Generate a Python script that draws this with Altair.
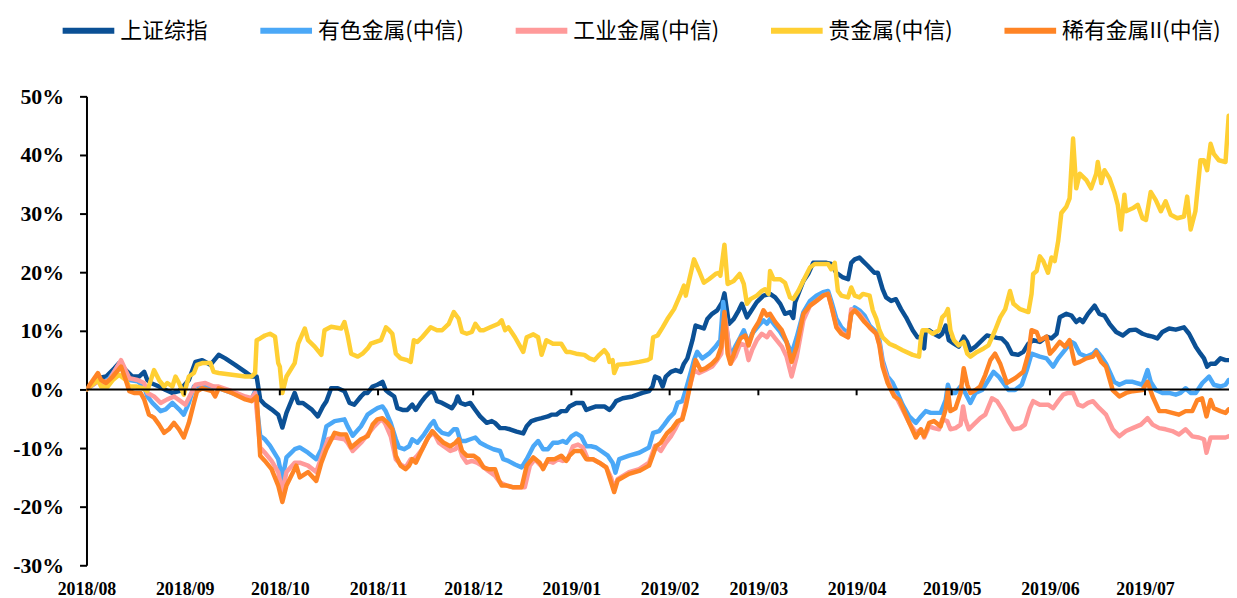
import altair as alt
import pandas as pd

# ---------------- data (day = calendar days since 2018-08-01, value in %) ----------------
SERIES = ["上证综指", "有色金属(中信)", "工业金属(中信)", "贵金属(中信)", "稀有金属II(中信)"]
COLORS = ["#0b5095", "#4ba8f7", "#ff9a9a", "#ffcf33", "#ff8425"]

sz_day = [0, 3.6, 6.2, 8.8, 10.3, 12.4, 14.5, 16.6, 18.2, 19.2, 20.3, 22.9, 25.0, 27.1, 29.2, 32.3, 34.4, 36.5, 39.1, 41.7,
          43.8, 46.9, 50.1, 52.1, 53.7, 54.8, 56.3, 58.4, 60.5, 61.8, 63.1, 65.7, 66.8, 68.3, 71.0, 73.0, 74.6, 75.7, 77.2, 79.3,
          81.4, 83.0, 84.5, 86.6, 87.7, 88.7, 90.3, 91.8, 93.4, 94.4, 95.5, 97.1, 98.1, 99.7, 101.2, 102.8, 103.9, 105.4, 107.0, 108.6,
          109.6, 110.6, 112.2, 114.3, 115.3, 116.4, 117.1, 118.0, 119.5, 121.1, 122.7, 124.2, 126.3, 127.9, 128.9, 130.5, 132.1, 133.6, 135.7, 137.8,
          138.9, 140.4, 142.0, 143.6, 145.6, 146.7, 148.3, 149.8, 151.4, 152.4, 154.5, 156.6, 157.7, 159.2, 160.8, 163.4, 165.0, 166.0, 167.1, 169.2,
          172.3, 175.4, 177.5, 178.6, 179.4, 180.7, 181.8, 182.8, 184.4, 185.9, 187.5, 188.5, 189.6, 191.2, 192.2, 193.8, 194.8, 195.9, 197.4, 199.0,
          200.6, 201.3, 202.7, 204.2, 205.8, 206.8, 208.4, 209.5, 211.5, 213.6, 215.7, 217.3, 218.9, 220.4, 222.0, 223.0, 223.6, 226.2, 227.7, 229.3,
          231.4, 233.5, 235.0, 236.6, 238.7, 240.3, 241.3, 242.4, 243.9, 245.0, 246.5, 248.6, 249.7, 251.2, 252.3, 253.9, 255.4, 257.0, 258.6, 260.7,
          262.2, 263.3, 264.3, 264.8, 265.9, 267.4, 269.0, 270.0, 271.1, 272.1, 273.7, 275.2, 276.8, 277.9, 278.9, 280.5, 282.6, 284.1, 285.7, 287.3,
          288.8, 290.4, 292.0, 294.0, 295.6, 297.2, 298.7, 300.8, 302.9, 304.5, 306.1, 307.1, 309.2, 310.8, 312.3, 313.4, 314.4, 316.0, 318.1, 319.6,
          321.2, 322.8, 324.9, 327.0, 329.1, 331.1, 333.2, 334.8, 336.4, 337.9, 339.5, 341.6, 343.7, 346.3, 347.9, 350.0, 351.5, 352.6, 353.6, 354.7,
          356.2, 357.8, 359.4, 360.4]
sz_val = [0, 1.9, 2.2, 3.6, 4.5, 3.3, 2.2, 2.2, 3.0, 1.6, 1.1, 0.5, -0.1, -0.6, -0.3, 1.6, 4.7, 5.0, 4.2, 5.9,
          5.3, 4.2, 3.0, 2.2, 2.2, -1.7, -2.6, -3.4, -4.3, -6.5, -4.0, -0.6, -2.3, -2.3, -3.4, -4.6, -2.9, -2.0, 0.2, 0.2,
          -0.3, -2.3, -2.6, -1.2, -0.6, -0.6, 0.5, 0.8, 1.3, -0.1, -0.6, -1.2, -3.2, -3.5, -3.5, -2.6, -3.5, -2.3, -1.2, -0.3,
          -0.6, -2.0, -2.3, -2.9, -3.2, -2.3, -1.2, -2.3, -2.6, -2.3, -3.5, -4.6, -5.7, -5.4, -5.7, -6.6, -6.6, -6.8, -7.2, -7.5,
          -6.3, -5.4, -5.1, -4.9, -4.6, -4.3, -4.3, -3.7, -3.7, -2.9, -2.3, -2.3, -3.5, -3.2, -2.9, -2.9, -3.5, -2.9, -2.0, -1.5,
          -1.2, -0.6, -0.3, 0.5, 2.2, 1.9, 0.5, 2.2, 3.0, 3.3, 3.0, 4.4, 5.3, 8.4, 10.9, 10.6, 10.4, 12.0, 12.9, 13.5,
          14.9, 16.4, 11.2, 12.0, 13.5, 14.6, 12.3, 13.2, 14.9, 16.0, 16.3, 15.7, 14.6, 12.9, 13.2, 12.2, 14.9, 18.5, 19.7, 21.6,
          21.6, 21.6, 21.4, 19.9, 19.1, 18.8, 21.6, 22.2, 22.5, 21.9, 21.1, 19.9, 19.9, 17.1, 15.7, 15.1, 15.4, 13.7, 12.3, 10.1,
          8.9, 8.9, 7.0, 10.1, 10.1, 9.5, 9.0, 9.5, 10.9, 8.4, 7.8, 7.3, 9.0, 8.1, 6.7, 7.3, 8.4, 9.2, 9.0, 8.8,
          8.7, 7.8, 6.1, 5.9, 6.4, 7.8, 8.4, 8.1, 9.0, 8.7, 9.5, 12.3, 12.9, 12.6, 11.5, 12.0, 11.5, 12.9, 14.3, 12.9,
          12.6, 11.2, 9.8, 9.2, 10.1, 10.2, 9.5, 9.2, 9.0, 8.7, 9.8, 10.4, 10.2, 10.6, 9.5, 7.3, 6.1, 5.3, 3.9, 4.4,
          4.4, 5.3, 5.0, 5.0]

ys_day = [0, 3.6, 5.1, 7.2, 10.9, 13.5, 16.1, 18.2, 19.2, 20.8, 23.4, 25.0, 27.1, 29.2, 30.7, 32.3, 33.9, 36.5, 39.6, 41.7,
          45.9, 50.1, 52.1, 53.2, 54.8, 56.3, 57.9, 60.5, 61.8, 63.1, 65.7, 67.3, 69.9, 72.5, 74.1, 75.7, 78.3, 81.4, 82.4, 84.0,
          86.6, 88.7, 90.3, 91.8, 93.4, 94.4, 96.0, 97.6, 98.6, 100.2, 101.8, 102.8, 104.4, 106.5, 108.6, 109.6, 110.6, 112.2, 114.3, 115.9,
          116.9, 118.0, 119.5, 121.1, 122.7, 124.2, 126.3, 128.4, 130.5, 131.5, 133.1, 135.2, 137.3, 138.9, 141.0, 142.5, 144.1, 145.6, 147.2, 148.8,
          150.3, 151.4, 153.0, 154.5, 156.1, 157.7, 159.2, 160.8, 162.4, 164.5, 166.0, 166.9, 168.1, 171.2, 174.4, 177.5, 178.8, 180.7, 182.3, 183.8,
          185.4, 186.5, 188.0, 189.1, 190.6, 191.7, 192.7, 194.3, 196.4, 198.5, 200.0, 200.9, 201.9, 203.2, 204.7, 206.3, 207.4, 208.9, 210.0, 212.1,
          213.6, 214.7, 215.7, 217.3, 218.9, 220.9, 222.5, 224.1, 226.2, 228.3, 230.3, 232.4, 234.0, 235.0, 236.6, 238.2, 240.3, 241.3, 242.4, 243.9,
          245.5, 247.1, 249.2, 250.2, 251.2, 252.8, 254.4, 255.9, 257.5, 259.6, 261.7, 263.3, 264.8, 266.4, 267.4, 269.5, 271.1, 271.8, 272.6, 274.2,
          275.8, 277.3, 278.9, 280.5, 282.6, 284.6, 286.2, 287.8, 289.3, 290.9, 293.0, 295.1, 296.7, 298.2, 300.8, 302.9, 305.0, 306.6, 308.7, 310.8,
          311.8, 313.4, 315.5, 317.6, 318.6, 320.2, 321.7, 324.3, 325.9, 328.0, 330.1, 333.2, 334.8, 335.8, 337.4, 339.5, 341.6, 343.7, 345.2, 346.8,
          348.4, 350.0, 352.1, 354.2, 355.7, 357.8, 359.4, 360.4]
ys_val = [0, 1.4, 1.1, 1.9, 4.7, 1.6, 1.4, 0.5, -1.2, -2.3, -3.7, -3.4, -2.3, -3.4, -4.3, -2.3, 0.5, 0.8, 0.5, 0.2,
          -0.6, -1.5, -1.6, -0.3, -7.9, -8.5, -9.6, -11.9, -15.3, -11.6, -10.2, -9.9, -10.8, -11.9, -10.2, -6.3, -5.4, -5.1, -6.3, -7.9,
          -6.3, -4.3, -3.7, -3.2, -2.9, -3.7, -5.7, -8.5, -9.9, -10.2, -9.7, -8.5, -9.1, -7.7, -6.0, -5.4, -6.6, -7.4, -7.7, -6.8,
          -6.8, -8.8, -8.8, -8.5, -8.2, -9.1, -9.7, -10.2, -10.5, -11.9, -12.2, -12.8, -13.3, -11.9, -9.7, -8.8, -10.2, -10.2, -9.1, -9.1,
          -8.8, -9.1, -8.0, -7.5, -8.0, -9.7, -9.7, -9.9, -10.5, -11.3, -12.5, -14.2, -11.9, -11.3, -10.8, -9.9, -7.4, -7.1, -6.0, -4.9,
          -4.0, -2.3, -2.0, -0.1, 2.8, 5.0, 6.4, 5.3, 6.1, 7.3, 8.4, 14.9, 10.6, 5.6, 7.3, 8.9, 10.1, 7.8, 9.5, 10.9,
          11.8, 11.2, 12.0, 10.9, 9.8, 8.1, 6.1, 8.9, 13.2, 15.1, 16.0, 16.6, 16.8, 15.1, 12.1, 10.6, 9.5, 12.9, 14.0, 13.5,
          12.6, 10.9, 9.8, 8.4, 5.0, 2.2, 1.1, -0.6, -2.6, -4.6, -5.7, -4.6, -3.7, -4.0, -4.0, -4.0, -1.8, 0.8, -0.6, -0.6,
          0.5, -0.6, -2.3, -0.6, -0.1, 1.6, 3.0, 2.2, 1.1, -0.1, -0.1, 0.8, 3.3, 6.1, 5.6, 5.3, 3.9, 5.3, 6.7, 8.1,
          7.8, 6.1, 5.6, 6.1, 6.7, 5.6, 4.4, 1.3, 0.8, 1.3, 1.3, 0.8, 3.3, 1.3, -0.1, -0.6, -0.6, -0.9, -0.6, 0.2,
          -0.6, -0.6, 1.1, 2.2, 0.8, 0.5, 0.8, 1.6]

gy_day = [0, 3.6, 5.1, 7.2, 10.9, 13.5, 16.1, 18.2, 19.2, 21.3, 23.4, 25.5, 27.6, 29.7, 31.2, 32.8, 34.4, 37.5, 40.1, 41.7,
          45.9, 50.1, 52.1, 53.2, 54.8, 56.3, 58.4, 60.5, 61.8, 63.1, 65.7, 67.3, 69.9, 72.5, 74.6, 76.2, 78.3, 81.4, 82.4, 84.0,
          86.6, 88.7, 90.8, 92.4, 93.4, 94.4, 96.0, 97.6, 99.1, 100.7, 102.3, 103.3, 104.4, 105.9, 108.0, 109.6, 111.2, 112.7, 114.8, 116.4,
          117.4, 118.5, 120.0, 121.6, 123.2, 124.7, 126.8, 128.9, 130.5, 132.6, 134.7, 136.8, 138.3, 139.9, 141.5, 143.0, 144.1, 145.6, 147.2, 148.8,
          150.3, 151.9, 153.5, 155.1, 156.6, 158.2, 159.8, 161.8, 164.0, 165.5, 166.5, 167.6, 171.2, 174.4, 177.5, 179.4, 181.2, 182.8, 184.4, 185.9,
          187.0, 188.0, 189.1, 190.1, 191.7, 193.3, 195.3, 197.4, 199.0, 200.3, 201.3, 202.1, 203.2, 204.7, 206.3, 207.9, 208.9, 210.0, 211.5, 213.1,
          214.7, 215.7, 217.3, 219.4, 220.9, 222.5, 224.1, 226.2, 228.3, 230.3, 232.4, 234.0, 235.0, 236.6, 238.2, 240.3, 241.3, 242.4, 243.9, 245.5,
          247.1, 249.2, 250.2, 251.2, 252.8, 254.4, 255.9, 257.5, 259.6, 261.7, 263.3, 264.3, 265.9, 267.4, 269.0, 270.0, 271.6, 272.6, 274.2, 275.8,
          276.6, 277.3, 278.4, 279.9, 282.0, 283.6, 285.7, 287.3, 289.3, 290.9, 292.5, 294.6, 296.1, 297.7, 298.7, 300.8, 303.4, 305.0, 306.6, 308.2,
          309.7, 311.3, 312.9, 314.4, 316.0, 317.6, 319.6, 321.7, 323.8, 325.9, 328.0, 330.1, 332.7, 334.8, 336.4, 338.5, 340.5, 342.6, 344.7, 346.8,
          348.9, 351.0, 352.6, 353.4, 354.7, 357.3, 359.4, 360.4]
gy_val = [0, 1.4, 1.1, 1.6, 5.0, 1.9, 1.6, 1.1, -0.6, -1.2, -2.3, -1.7, -1.2, -2.0, -2.6, -0.9, 0.8, 1.1, 0.5, 0.5,
          -0.3, -1.2, -1.5, -0.6, -9.9, -10.8, -12.2, -14.1, -17.5, -14.1, -12.5, -12.5, -13.0, -14.1, -10.8, -8.5, -8.2, -8.5, -9.1, -10.5,
          -9.1, -7.7, -6.3, -5.4, -5.1, -6.0, -8.0, -11.9, -12.8, -13.3, -11.9, -11.9, -11.3, -10.2, -8.0, -7.4, -9.1, -9.7, -10.5, -10.2,
          -9.4, -11.3, -12.5, -12.2, -12.5, -13.0, -13.9, -14.7, -15.9, -16.4, -16.7, -16.7, -16.7, -13.0, -11.9, -12.8, -13.3, -12.2, -12.5, -11.9,
          -12.2, -11.9, -9.7, -9.4, -9.9, -11.9, -11.9, -12.5, -13.3, -15.0, -17.0, -15.3, -14.1, -13.6, -12.5, -9.6, -10.5, -9.1, -8.0, -6.6,
          -5.4, -4.9, -2.3, -0.1, 3.3, 2.8, 3.3, 3.9, 5.0, 6.1, 12.6, 10.1, 4.4, 5.6, 7.8, 7.5, 5.0, 6.7, 8.4, 9.5,
          8.9, 9.8, 8.7, 7.3, 5.6, 2.2, 5.6, 11.8, 14.3, 15.1, 16.0, 16.3, 14.3, 10.9, 9.8, 8.9, 13.7, 13.5, 12.9, 11.8,
          10.6, 9.5, 7.8, 4.4, 1.6, -0.6, -1.7, -3.4, -5.7, -7.4, -6.8, -8.2, -6.3, -6.6, -6.8, -5.1, -5.4, -6.8, -6.6, -6.0,
          -2.9, -5.1, -6.8, -6.0, -4.9, -4.3, -1.5, -2.0, -3.7, -5.4, -6.8, -6.6, -6.0, -3.2, -2.0, -2.6, -2.6, -3.2, -2.0, -0.9,
          -0.6, -0.6, -2.6, -2.9, -2.3, -2.0, -3.2, -4.3, -6.8, -8.0, -7.1, -6.6, -6.0, -4.9, -6.0, -6.6, -6.8, -7.1, -7.7, -6.8,
          -8.0, -8.2, -8.5, -10.8, -8.2, -8.2, -8.2, -8.0]

gj_day = [0, 3.6, 4.6, 6.7, 8.3, 10.3, 12.4, 13.5, 15.6, 17.7, 19.2, 21.3, 22.9, 24.5, 25.5, 27.1, 28.1, 29.2, 30.7, 32.3,
          33.9, 34.9, 36.5, 39.1, 40.1, 41.7, 45.9, 50.1, 52.1, 53.2, 53.7, 54.8, 56.3, 57.9, 59.5, 60.5, 61.0, 61.8, 63.1, 65.7,
          66.8, 68.9, 69.9, 72.0, 74.1, 75.1, 77.2, 80.4, 81.4, 82.4, 83.5, 85.6, 87.1, 88.7, 89.7, 92.9, 94.5, 95.5, 96.5, 97.6,
          99.1, 101.2, 102.3, 103.3, 104.4, 105.9, 108.6, 110.6, 112.2, 114.3, 115.9, 117.4, 118.5, 120.0, 121.6, 122.7, 124.2, 125.3, 127.4, 130.0,
          131.0, 132.1, 133.1, 135.2, 137.8, 138.9, 141.0, 142.5, 143.6, 145.1, 147.2, 149.8, 151.4, 152.4, 154.5, 157.1, 158.7, 160.3, 161.8, 163.4,
          164.5, 165.0, 166.0, 166.5, 167.6, 171.2, 174.4, 177.0, 178.0, 178.8, 180.2, 181.8, 183.3, 185.4, 187.5, 188.5, 189.1, 190.1, 191.7, 193.3,
          194.8, 196.4, 198.5, 199.5, 200.0, 201.3, 202.3, 204.2, 206.1, 207.4, 208.4, 209.5, 211.5, 213.1, 214.1, 215.2, 215.7, 216.8, 218.9, 220.4,
          222.0, 223.0, 224.6, 226.7, 228.3, 229.8, 232.4, 234.0, 235.0, 236.1, 237.1, 238.2, 240.3, 241.3, 242.4, 243.9, 245.0, 247.1, 248.1, 249.2,
          250.2, 251.2, 253.3, 255.4, 257.5, 260.7, 262.7, 263.3, 263.8, 265.4, 267.0, 269.0, 270.0, 271.1, 271.8, 272.6, 273.7, 275.2, 276.8, 277.9,
          278.9, 281.0, 283.1, 284.6, 286.7, 288.3, 289.9, 291.4, 292.5, 294.6, 297.2, 298.2, 298.7, 299.8, 300.8, 301.9, 303.4, 304.5, 305.5, 306.6,
          307.6, 309.2, 310.2, 311.3, 312.3, 313.4, 315.5, 317.0, 318.6, 319.1, 320.2, 321.2, 322.8, 324.3, 325.4, 326.4, 327.5, 328.0, 330.1, 331.7,
          333.2, 334.3, 335.8, 337.4, 339.0, 340.5, 342.1, 344.2, 346.3, 347.3, 348.4, 349.9, 351.5, 352.6, 353.6, 354.7, 355.7, 357.3, 359.4, 360.4]
gj_val = [0, 1.6, 0.5, 0.5, 1.6, 2.5, 1.6, 0.5, 0.5, 0.2, -0.3, 3.3, 1.6, 0.5, 1.1, 0.5, 2.2, 1.1, -0.9, 2.2,
          2.8, 4.2, 4.5, 4.5, 3.0, 2.8, 2.5, 2.2, 2.2, 2.8, 8.4, 8.7, 9.2, 9.5, 9.0, 4.5, 3.9, -0.6, 2.2, 4.5,
          7.8, 10.4, 8.4, 7.3, 5.9, 10.1, 10.7, 10.4, 11.5, 9.2, 6.1, 5.6, 6.1, 7.0, 7.8, 8.4, 10.6, 10.1, 9.5, 6.1,
          5.3, 5.0, 4.7, 8.4, 8.1, 8.9, 10.6, 10.1, 10.1, 11.2, 13.2, 12.1, 9.8, 9.5, 9.8, 11.2, 10.1, 10.1, 10.6, 11.2,
          11.8, 10.1, 10.6, 8.9, 6.4, 8.9, 9.4, 8.9, 5.9, 8.4, 7.8, 7.8, 6.4, 6.4, 6.1, 5.9, 5.3, 5.0, 5.9, 6.7,
          5.9, 4.7, 5.0, 2.8, 4.2, 4.4, 4.7, 5.0, 5.3, 8.9, 9.2, 10.6, 12.0, 13.7, 16.3, 17.7, 16.0, 18.5, 22.2, 20.2,
          18.2, 18.8, 19.7, 19.9, 19.4, 24.7, 18.0, 18.5, 19.7, 18.0, 14.6, 15.4, 16.0, 16.8, 17.1, 16.3, 20.2, 18.8, 18.8, 18.2,
          15.7, 15.4, 16.8, 19.1, 20.8, 21.4, 21.4, 21.4, 20.5, 21.6, 16.8, 16.0, 15.7, 17.4, 16.0, 15.7, 16.3, 16.0, 13.5, 12.1,
          10.1, 8.9, 7.8, 7.3, 6.7, 5.9, 5.6, 8.9, 10.1, 10.1, 9.5, 10.1, 12.3, 12.9, 13.7, 10.1, 8.4, 7.5, 8.1, 6.1,
          5.6, 6.4, 7.0, 7.5, 10.1, 12.3, 13.7, 16.8, 14.6, 13.7, 13.2, 16.3, 19.7, 20.2, 22.7, 21.9, 19.9, 22.5, 21.9, 25.3,
          30.1, 31.2, 32.6, 42.8, 34.3, 36.8, 35.7, 34.3, 36.8, 38.8, 35.2, 37.4, 36.0, 33.7, 31.5, 27.3, 33.2, 30.4, 30.9, 31.5,
          29.2, 28.9, 33.7, 32.3, 30.4, 32.1, 29.8, 29.2, 29.5, 32.9, 27.3, 30.4, 39.1, 39.1, 37.4, 41.9, 40.2, 39.1, 38.8, 46.7]

xy_day = [0, 3.6, 4.6, 6.2, 8.3, 10.9, 12.4, 13.5, 15.0, 17.1, 18.2, 19.7, 21.3, 22.9, 24.5, 26.0, 27.6, 29.2, 30.7, 32.3,
          33.9, 34.9, 36.5, 39.6, 40.6, 41.7, 45.9, 50.1, 52.1, 53.7, 54.8, 56.3, 58.4, 60.5, 61.8, 63.1, 66.2, 67.3, 69.9, 72.5,
          74.1, 75.7, 78.3, 80.4, 81.9, 83.5, 86.6, 88.7, 90.3, 91.8, 93.4, 95.0, 96.5, 97.6, 99.1, 100.7, 101.8, 102.8, 103.9, 105.4,
          107.5, 109.1, 110.6, 112.7, 114.8, 116.4, 117.4, 118.5, 120.0, 122.1, 123.7, 125.3, 126.8, 128.9, 130.0, 131.0, 132.6, 134.7, 137.3, 138.9,
          141.0, 143.0, 144.1, 145.6, 147.7, 149.8, 151.4, 152.4, 154.0, 156.1, 157.7, 159.8, 161.8, 164.0, 165.5, 166.5, 167.6, 171.2, 174.4, 177.5,
          178.8, 179.7, 181.2, 183.3, 184.9, 186.5, 188.0, 189.1, 190.6, 192.2, 193.8, 195.3, 197.4, 199.0, 200.3, 201.3, 202.3, 203.2, 204.7, 206.3,
          207.9, 208.9, 210.5, 212.1, 213.6, 214.7, 215.7, 217.3, 219.4, 220.9, 222.5, 224.1, 226.2, 228.3, 230.3, 232.4, 234.0, 235.0, 236.6, 238.2,
          240.3, 241.3, 242.4, 243.9, 245.5, 247.1, 249.2, 250.2, 251.2, 252.8, 254.9, 256.5, 258.0, 259.6, 261.7, 263.3, 264.3, 265.9, 267.4, 269.5,
          271.1, 271.8, 272.6, 274.2, 275.8, 276.8, 277.9, 278.9, 280.5, 282.0, 283.6, 285.2, 286.7, 288.3, 290.4, 293.0, 295.6, 297.2, 298.2, 299.8,
          300.8, 302.9, 304.0, 305.5, 307.1, 308.7, 310.2, 311.8, 313.4, 315.5, 317.6, 318.6, 320.2, 321.7, 323.8, 325.9, 328.0, 330.1, 333.2, 334.8,
          336.4, 338.5, 340.5, 342.6, 344.7, 346.8, 348.9, 350.5, 352.0, 353.4, 354.7, 355.7, 357.8, 359.4, 360.4]
xy_val = [0, 2.8, 1.6, 1.1, 2.2, 3.9, 1.6, -0.3, -0.6, -0.6, -1.7, -4.3, -4.8, -6.0, -7.4, -6.8, -5.7, -6.8, -8.2, -5.7,
          -2.3, -0.3, 0.2, -0.3, -1.2, 0.2, -0.6, -1.7, -2.0, -1.2, -11.3, -12.2, -13.6, -16.4, -19.2, -16.4, -13.0, -15.0, -14.1, -15.6,
          -12.5, -10.2, -7.4, -7.7, -7.7, -9.9, -8.5, -8.0, -6.0, -5.1, -4.9, -5.7, -6.8, -11.3, -13.0, -13.6, -13.0, -11.9, -12.5, -10.8,
          -8.5, -7.1, -8.0, -9.1, -9.7, -9.1, -8.5, -10.5, -11.3, -11.3, -11.9, -13.3, -13.6, -13.6, -15.3, -16.4, -16.4, -16.7, -16.7, -13.0,
          -11.6, -12.5, -13.6, -11.9, -11.9, -11.3, -12.2, -11.3, -10.5, -10.5, -11.9, -11.9, -12.5, -13.3, -15.8, -17.5, -15.5, -14.4, -13.9, -13.0,
          -11.1, -9.7, -9.1, -7.4, -6.6, -5.4, -5.1, -2.9, 1.1, 5.0, 3.3, 3.6, 4.4, 5.3, 7.3, 13.2, 6.1, 4.4, 6.7, 8.7,
          9.2, 7.5, 10.1, 11.5, 13.5, 12.6, 12.9, 11.5, 10.1, 8.1, 4.7, 7.3, 12.9, 14.3, 15.1, 16.0, 16.3, 14.3, 10.6, 9.5,
          8.9, 12.9, 13.5, 12.6, 11.5, 10.6, 9.5, 7.5, 3.9, 1.1, -1.2, -1.8, -3.7, -5.7, -8.2, -6.8, -8.0, -5.7, -5.4, -6.3,
          -3.4, -0.1, -3.7, -3.2, -0.6, 3.6, 0.8, -0.6, -0.1, 0.5, 2.5, 5.0, 6.1, 4.4, 1.1, 1.9, 3.0, 6.1, 10.1, 9.8,
          8.4, 9.0, 6.1, 7.0, 8.1, 7.3, 8.4, 4.4, 4.7, 5.3, 5.6, 6.4, 4.7, 3.9, -0.1, -1.2, -0.6, -0.3, -0.1, 1.3,
          -1.2, -3.7, -3.7, -4.0, -4.3, -3.7, -3.7, -1.8, -1.5, -4.6, -1.8, -3.2, -3.7, -4.0, -3.4]

# axis text (x labels sit at the first day of each month)
y_ticks = [-30, -20, -10, 0, 10, 20, 30, 40, 50]
month_days = [0, 31, 61, 92, 122, 153, 184, 212, 243, 273, 304, 334]
month_text = ["2018/08", "2018/09", "2018/10", "2018/11", "2018/12", "2019/01",
              "2019/02", "2019/03", "2019/04", "2019/05", "2019/06", "2019/07"]

# ---------------- table ----------------
rows = []
for name, days, vals in zip(SERIES,
                            [sz_day, ys_day, gy_day, gj_day, xy_day],
                            [sz_val, ys_val, gy_val, gj_val, xy_val]):
    for d, v in zip(days, vals):
        rows.append({"series": name, "day": d, "value": v})
df = pd.DataFrame(rows)

X_DOMAIN = [0, 360.5]
Y_DOMAIN = [-30, 50]
xscale = alt.Scale(domain=X_DOMAIN, nice=False, zero=False)
yscale = alt.Scale(domain=Y_DOMAIN, nice=False)

label_expr = ("[" + ",".join(f"'{t}'" for t in month_text) + "][indexof(["
              + ",".join(str(d) for d in month_days) + "], datum.value)]")

lines = alt.Chart(df).mark_line(strokeWidth=4.5, strokeJoin="round", strokeCap="round", clip=True).encode(
    x=alt.X("day:Q", scale=xscale,
            axis=alt.Axis(values=month_days, labelExpr=label_expr, domain=False, ticks=False, grid=False,
                          labelFont="Liberation Serif", labelFontWeight="bold", labelFontSize=18,
                          labelColor="black", labelPadding=15, labelFlush=False,
                          labelOverlap=False, title=None)),
    y=alt.Y("value:Q", scale=yscale,
            axis=alt.Axis(values=y_ticks, labelExpr="datum.value + '%'", grid=False,
                          domainColor="black", domainWidth=2, tickColor="black", tickWidth=2, tickSize=7,
                          labelFont="Liberation Serif", labelFontWeight="bold", labelFontSize=22,
                          labelColor="black", labelPadding=16, title=None)),
    color=alt.Color("series:N", scale=alt.Scale(domain=SERIES, range=COLORS),
                    legend=alt.Legend(orient="none", legendX=-27, legendY=-95, direction="horizontal",
                                      title=None, symbolType="stroke", symbolSize=2704, symbolStrokeWidth=6,
                                      labelFont="Noto Sans CJK SC", labelFontSize=22, labelColor="black",
                                      columnPadding=40, labelOffset=3, padding=0)),
)

zero_rule = alt.Chart(pd.DataFrame({"y": [0]})).mark_rule(color="black", strokeWidth=2).encode(
    y=alt.Y("y:Q", scale=yscale))

tick_df = pd.DataFrame({"day": month_days[1:], "y0": [0] * (len(month_days) - 1),
                        "y1": [-1] * (len(month_days) - 1)})
month_ticks = alt.Chart(tick_df).mark_rule(color="black", strokeWidth=2).encode(
    x=alt.X("day:Q", scale=xscale), y=alt.Y("y0:Q", scale=yscale), y2="y1:Q")

chart = alt.layer(lines, zero_rule, month_ticks).properties(
    width=1150, height=472,
    autosize=alt.AutoSizeParams(type="none"),
    padding={"left": 79, "top": 87, "right": 0, "bottom": 31},
    background="white",
).configure_view(stroke=None)

chart.save("out.html", embed_options={"renderer": "svg", "actions": False})
